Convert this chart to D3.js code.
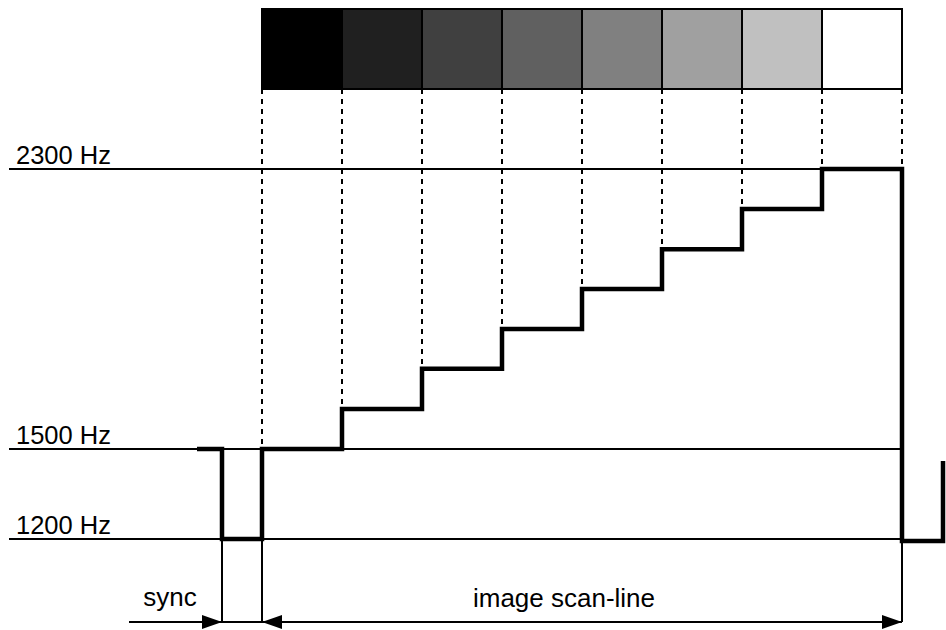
<!DOCTYPE html>
<html>
<head>
<meta charset="utf-8">
<script src="https://cdn.jsdelivr.net/npm/d3@7"></script>
<style>
  html, body { margin: 0; padding: 0; background: #fff; }
  svg { display: block; font-family: "Liberation Sans", Arial, sans-serif; }
</style>
</head>
<body>
<svg id="chart" width="946" height="630"></svg>
<script>
// ---- data (schematic time units; 1 unit = one grey pixel) ----
const grayLevels = ["#000000", "#202020", "#404040", "#606060", "#808080", "#a0a0a0", "#c0c0c0", "#ffffff"];
const stepFreqs = [1500, 1614, 1729, 1843, 1957, 2071, 2186, 2300];   // Hz per pixel
const refFreqs = [2300, 1500, 1200];
const refLabels = ["2300 Hz", "1500 Hz", "1200 Hz"];
const syncStart = -0.5, syncEnd = 0;           // sync pulse interval
const preStart = -0.8125;                      // visible porch before sync
const nextSyncEnd = 8.5125, nextSyncFreq = 1193, nextRiseFreq = 1460;
const spanLabels = ["sync", "image scan-line"];

// ---- scales ----
const x = d3.scaleLinear().domain([0, 8]).range([262, 902]);
const y = d3.scaleLinear().domain([1200, 1500, 2300]).range([539, 449, 169]);

const svg = d3.select("#chart");

// reference frequency lines
svg.selectAll("line.ref").data(refFreqs).join("line")
  .attr("class", "ref")
  .attr("x1", 9).attr("x2", x(8))
  .attr("y1", d => y(d)).attr("y2", d => y(d))
  .attr("stroke", "#000").attr("stroke-width", 2);

svg.selectAll("text.ref").data(refFreqs).join("text")
  .attr("class", "ref")
  .attr("x", 16).attr("y", d => y(d) - 5)
  .attr("font-size", 25.5).attr("fill", "#000")
  .text((d, i) => refLabels[i]);

// dashed guides from the grey blocks down to each step
const blockTop = 9, blockBottom = 89;
const guideData = d3.range(9).map(i => ({ t: i, f: stepFreqs[Math.min(i, 7)] }));
svg.selectAll("line.guide").data(guideData).join("line")
  .attr("class", "guide")
  .attr("x1", d => x(d.t)).attr("x2", d => x(d.t))
  .attr("y1", blockBottom).attr("y2", d => y(d.f))
  .attr("stroke", "#000").attr("stroke-width", 2)
  .attr("stroke-dasharray", "5,5");

// grey blocks
svg.selectAll("rect.blk").data(grayLevels).join("rect")
  .attr("class", "blk")
  .attr("x", (d, i) => x(i)).attr("y", blockTop)
  .attr("width", x(1) - x(0)).attr("height", blockBottom - blockTop)
  .attr("fill", d => d).attr("stroke", "#000").attr("stroke-width", 2);

// thin vertical markers below the signal
const markerTimes = [syncStart, syncEnd, 8];
svg.selectAll("line.mark").data(markerTimes).join("line")
  .attr("class", "mark")
  .attr("x1", d => x(d)).attr("x2", d => x(d))
  .attr("y1", y(1200)).attr("y2", 622)
  .attr("stroke", "#000").attr("stroke-width", 2);

// signal step path
const pts = [[preStart, 1500], [syncStart, 1500], [syncStart, 1200], [syncEnd, 1200]];
stepFreqs.forEach((f, i) => { pts.push([i, f]); pts.push([i + 1, f]); });
pts.push([8, nextSyncFreq], [nextSyncEnd, nextSyncFreq], [nextSyncEnd, nextRiseFreq]);

svg.append("path")
  .datum(pts)
  .attr("d", d3.line().x(d => x(d[0])).y(d => y(d[1])))
  .attr("fill", "none").attr("stroke", "#000").attr("stroke-width", 4.5)
  .attr("stroke-linejoin", "miter").attr("stroke-linecap", "butt");

// bottom span arrows
const arrowY = 622;
svg.append("line")
  .attr("x1", 129).attr("x2", x(8))
  .attr("y1", arrowY).attr("y2", arrowY)
  .attr("stroke", "#000").attr("stroke-width", 2);

function head(tipX, dir) {
  const L = 20, H = 7;
  svg.append("path")
    .attr("d", `M${tipX},${arrowY} L${tipX - dir * L},${arrowY - H} L${tipX - dir * L},${arrowY + H} Z`)
    .attr("fill", "#000");
}
head(x(syncStart), 1);
head(x(syncEnd), -1);
head(x(8), 1);

svg.append("text")
  .attr("x", 170).attr("y", 606)
  .attr("text-anchor", "middle").attr("font-size", 26).attr("fill", "#000")
  .text(spanLabels[0]);
svg.append("text")
  .attr("x", 564).attr("y", 607)
  .attr("text-anchor", "middle").attr("font-size", 26).attr("fill", "#000")
  .text(spanLabels[1]);
</script>
</body>
</html>
